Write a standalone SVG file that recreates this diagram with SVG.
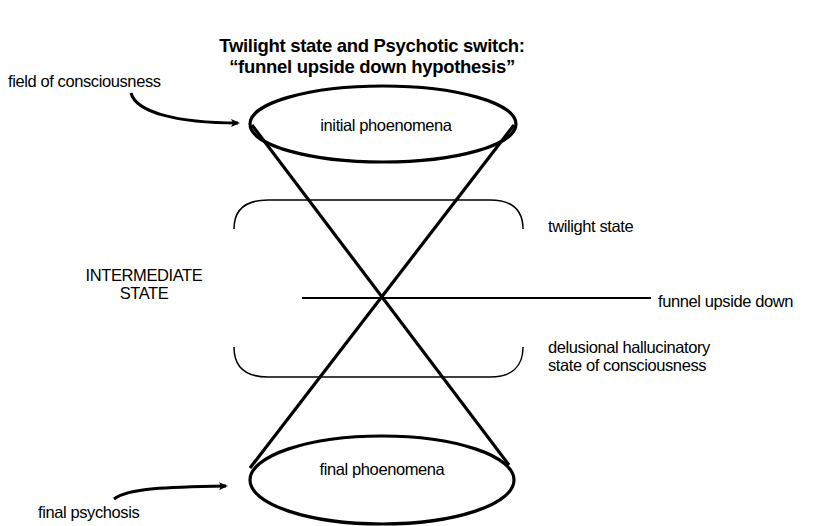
<svg xmlns="http://www.w3.org/2000/svg" width="815" height="526" viewBox="0 0 815 526">
<style>
.t{font-family:"Liberation Sans",Arial,sans-serif;font-size:16.5px;fill:#000;letter-spacing:-0.4px}
.title{font-family:"Liberation Sans",Arial,sans-serif;font-size:18.5px;font-weight:bold;fill:#000;letter-spacing:-0.3px}
.thick{fill:none;stroke:#000;stroke-width:3.2}
.thin{fill:none;stroke:#000;stroke-width:1.5}
</style>
<defs>
<marker id="ah" markerWidth="9" markerHeight="8" refX="7" refY="4" orient="auto" markerUnits="userSpaceOnUse">
<path d="M0,0 L9,4 L0,8 L2,4 Z" fill="#000"/>
</marker>
</defs>
<rect width="815" height="526" fill="#fff"/>
<g id="title">
<text class="title" x="372" y="52" text-anchor="middle">Twilight state and Psychotic switch:</text>
<text class="title" x="372" y="73" text-anchor="middle">“funnel upside down hypothesis”</text>
</g>
<g id="connectors">
<line class="thick" x1="252" y1="125" x2="509" y2="465"/>
<line class="thick" x1="514" y1="125" x2="250" y2="468"/>
<line x1="302" y1="298" x2="651" y2="298" stroke="#000" stroke-width="2"/>
<path d="M131,93 C136,112 176,123 238,123" fill="none" stroke="#000" stroke-width="3" marker-end="url(#ah)"/>
<path d="M114,499 C128,488 168,487 226,486" fill="none" stroke="#000" stroke-width="3" marker-end="url(#ah)"/>
</g>
<g id="top-ellipse">
<ellipse class="thick" cx="383" cy="124" rx="133" ry="38"/>
<text class="t" x="386" y="131" text-anchor="middle">initial phoenomena</text>
</g>
<g id="bottom-ellipse">
<ellipse class="thick" cx="382" cy="480" rx="132" ry="44"/>
<text class="t" x="382" y="475" text-anchor="middle">final phoenomena</text>
</g>
<g id="twilight-brace">
<path class="thin" d="M234,229 C234,210 245,200 268,200 L490,200 C512,200 523,210 523,229"/>
</g>
<g id="delusional-brace">
<path class="thin" d="M234,347 C234,366 245,377 268,377 L490,377 C512,377 523,366 523,347"/>
</g>
<g id="field-label"><text class="t" x="8" y="87">field of consciousness</text></g>
<g id="final-psychosis-label"><text class="t" x="38" y="518">final psychosis</text></g>
<g id="intermediate-label">
<text class="t" x="144" y="281" text-anchor="middle">INTERMEDIATE</text>
<text class="t" x="144" y="299" text-anchor="middle">STATE</text>
</g>
<g id="twilight-label"><text class="t" x="548" y="232">twilight state</text></g>
<g id="funnel-label"><text class="t" x="658" y="307">funnel upside down</text></g>
<g id="delusional-label">
<text class="t" x="548" y="353">delusional hallucinatory</text>
<text class="t" x="548" y="371">state of consciousness</text>
</g>
</svg>
